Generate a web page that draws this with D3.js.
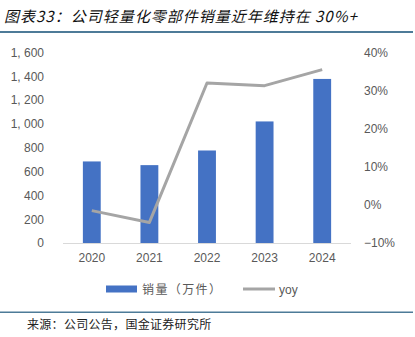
<!DOCTYPE html>
<html><head><meta charset="utf-8">
<script src="https://cdn.jsdelivr.net/npm/d3@7"></script>
<style>
body{margin:0;background:#fff;}
svg{display:block;}
</style></head>
<body>
<svg id="c" width="415" height="337"></svg>
<script>
const categories = ["2020","2021","2022","2023","2024"];
const sales = [685, 654, 777, 1021, 1378];
const yoy = [-1.5, -4.6, 32.0, 31.3, 35.5];
const leftTicks = [0,200,400,600,800,1000,1200,1400,1600];
const rightTicks = [-10,0,10,20,30,40];
const titleText = "图表33：公司轻量化零部件销量近年维持在 30%+";
const sourceText = "来源：公司公告，国金证券研究所";
const legendLabels = ["销量（万件）","yoy"];

const svg = d3.select("#c");
const fontCJK = "'Noto Sans CJK SC','Noto Sans',sans-serif";
const fontNum = "'Liberation Sans',Arial,sans-serif";

// title
svg.append("text").attr("x",4).attr("y",22).text(titleText)
  .attr("font-family",fontCJK).attr("font-size",15).attr("font-style","italic").attr("font-weight","normal")
  .attr("letter-spacing",1.0).attr("fill","#111");
svg.append("rect").attr("x",0).attr("y",31).attr("width",413).attr("height",2).attr("fill","#4d7b98");

const x0 = 63, x1 = 351, yTop = 52.5, yBot = 243;
const x = d3.scaleBand().domain(categories).range([x0,x1]).paddingInner(0.69).paddingOuter(0.345);
const yL = d3.scaleLinear().domain([0,1600]).range([yBot,yTop]);
const yR = d3.scaleLinear().domain([-10,40]).range([yBot,yTop]);

// bars
svg.append("g").selectAll("rect").data(categories).join("rect")
  .attr("x",d=>x(d)).attr("width",x.bandwidth())
  .attr("y",(d,i)=>yL(sales[i])).attr("height",(d,i)=>yBot-yL(sales[i]))
  .attr("fill","#4472C4");

// baseline
svg.append("line").attr("x1",x0).attr("x2",x1).attr("y1",yBot+0.5).attr("y2",yBot+0.5)
  .attr("stroke","#d9d9d9").attr("stroke-width",1);

// left axis
const axL = svg.append("g").attr("transform",`translate(${x0},0)`)
  .call(d3.axisLeft(yL).tickValues(leftTicks).tickSize(0).tickPadding(19)
    .tickFormat(d=>d3.format(",")(d).replace(",",", ")));
axL.select(".domain").remove();
axL.selectAll("text").attr("font-family",fontNum).attr("font-size",12).attr("fill","#595959");

// right axis
const axR = svg.append("g").attr("transform",`translate(${x1},0)`)
  .call(d3.axisRight(yR).tickValues(rightTicks).tickSize(0).tickPadding(13)
    .tickFormat(d=>(d<0?"\u2212"+Math.abs(d):d)+"%"));
axR.select(".domain").remove();
axR.selectAll("text").attr("font-family",fontNum).attr("font-size",12).attr("fill","#595959");

// x axis
const axX = svg.append("g").attr("transform",`translate(0,${yBot})`)
  .call(d3.axisBottom(x).tickSize(0).tickPadding(10));
axX.select(".domain").remove();
axX.selectAll("text").attr("font-family",fontNum).attr("font-size",12).attr("fill","#595959");

// yoy line
const line = d3.line().x((d,i)=>x(categories[i])+x.bandwidth()/2).y(d=>yR(d));
svg.append("path").datum(yoy).attr("d",line).attr("fill","none")
  .attr("stroke","#A5A5A5").attr("stroke-width",3).attr("stroke-linejoin","round");

// legend
const ly = 289;
svg.append("rect").attr("x",106).attr("y",ly-3.5).attr("width",31).attr("height",7).attr("fill","#4472C4");
svg.append("text").attr("x",142).attr("y",ly+4.5).text(legendLabels[0])
  .attr("font-family",fontCJK).attr("font-size",12).attr("letter-spacing",1.4).attr("fill","#595959");
svg.append("line").attr("x1",243).attr("x2",275).attr("y1",ly).attr("y2",ly)
  .attr("stroke","#A5A5A5").attr("stroke-width",3);
svg.append("text").attr("x",279).attr("y",ly+4.5).text(legendLabels[1])
  .attr("font-family",fontNum).attr("font-size",12).attr("fill","#595959");

// bottom
svg.append("rect").attr("x",0).attr("y",311.5).attr("width",413).attr("height",1.5).attr("fill","#4d7b98");
svg.append("text").attr("x",27).attr("y",329).text(sourceText)
  .attr("font-family",fontCJK).attr("font-size",12).attr("letter-spacing",0.3).attr("fill","#222");
</script>
</body></html>
